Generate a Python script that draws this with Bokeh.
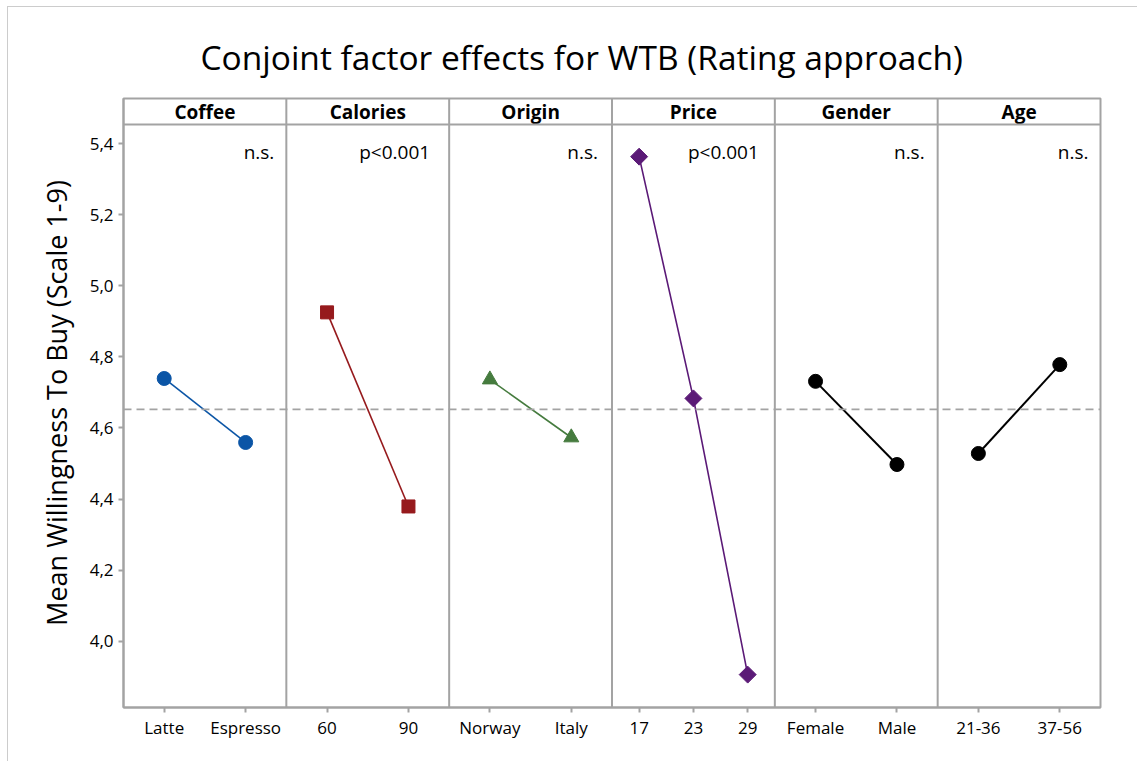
import math
from bokeh.plotting import figure
from bokeh.models import FixedTicker, Span
from bokeh.core.properties import value
from bokeh.embed import file_html
from bokeh.resources import INLINE

# ---- data ----
factors = ["Coffee", "Calories", "Origin", "Price", "Gender", "Age"]
levels = [["Latte", "Espresso"], ["60", "90"], ["Norway", "Italy"],
          ["17", "23", "29"], ["Female", "Male"], ["21-36", "37-56"]]
means = [[4.739, 4.559], [4.925, 4.379], [4.736, 4.573],
         [5.363, 4.683, 3.906], [4.731, 4.497], [4.528, 4.778]]
significance = ["n.s.", "p<0.001", "n.s.", "p<0.001", "n.s.", "n.s."]
grand_mean = 4.652
y_ticks = [4.0, 4.2, 4.4, 4.6, 4.8, 5.0, 5.2, 5.4]
y_tick_labels = ["4,0", "4,2", "4,4", "4,6", "4,8", "5,0", "5,2", "5,4"]

# ---- styles ----
colors = ["#0B55A6", "#961A1D", "#457B3E", "#5B1A77", "#000000", "#000000"]
markers = ["circle", "square", "triangle", "square", "circle", "circle"]
angles = [0, 0, 0, math.pi / 4, 0, 0]
sizes = [14, 13, 15, 12, 14, 14]
line_widths = [1.6, 1.6, 1.6, 1.6, 2.0, 2.0]
sig_offsets = [-12, -19, -14, -16, -13, -12]
FONT = "Open Sans"
GRAY = "#a3a3a3"

# layout constants (data units of the y scale)
Y_BOTTOM, HEADER_BOTTOM, Y_TOP = 3.8135, 5.4534, 5.5266
SIG_Y = 5.376

p = figure(width=1130, height=755, x_range=(0, len(factors)),
           y_range=(Y_BOTTOM, Y_TOP), output_backend="svg",
           toolbar_location=None, min_border_left=115, min_border_right=38,
           min_border_top=91, min_border_bottom=55)
p.margin = (6, 0, 0, 7)

p.title.text = "Conjoint factor effects for WTB (Rating approach)"
p.title.align = "left"
p.title.offset = 77
p.title.text_font = FONT
p.title.text_font_size = "33.5px"
p.title.text_font_style = "normal"
p.title.text_color = "#000000"
p.title.standoff = 37

p.xgrid.visible = False
p.ygrid.visible = False
p.outline_line_color = GRAY
p.outline_line_width = 2
p.background_fill_color = "white"
p.border_fill_color = "white"

# x positions of the levels within each panel
x_ticks = []
x_labels = {}
panel_x = []
for k, lv in enumerate(levels):
    n = len(lv)
    xs = [k + (i + 0.5) / n for i in range(n)]
    panel_x.append(xs)
    for xv, lab in zip(xs, lv):
        x_ticks.append(xv)
        x_labels[xv] = lab

# reference line
p.add_layout(Span(location=grand_mean, dimension="width", line_color=GRAY,
                  line_width=1.6, line_dash="8 5"))
# panel dividers
for k in range(1, len(factors)):
    p.add_layout(Span(location=k, dimension="height", line_color=GRAY, line_width=2))
# header strip bottom
p.add_layout(Span(location=HEADER_BOTTOM, dimension="width", line_color=GRAY, line_width=2))

# data
for k in range(len(factors)):
    p.line(panel_x[k], means[k], line_color=colors[k], line_width=line_widths[k])
    p.scatter(panel_x[k], means[k], marker=markers[k], size=sizes[k],
              angle=angles[k], fill_color=colors[k], line_color=colors[k])

# header texts
p.text(x=[k + 0.5 for k in range(len(factors))],
       y=[(HEADER_BOTTOM + Y_TOP) / 2] * len(factors), text=factors,
       text_align="center", text_baseline="middle", text_font=value(FONT),
       text_font_size="19px", text_font_style="bold", text_color="#000000")

# significance labels
p.text(x=[k + 1 for k in range(len(factors))], y=[SIG_Y] * len(factors),
       text=significance, x_offset=sig_offsets, text_align="right",
       text_baseline="middle", text_font=value(FONT), text_font_size="19px",
       text_color="#000000")

# axes
p.yaxis.ticker = FixedTicker(ticks=y_ticks)
p.yaxis.major_label_overrides = dict(zip(y_ticks, y_tick_labels))
p.yaxis.axis_label = "Mean Willingness To Buy (Scale 1-9)"
p.yaxis.axis_label_text_font = FONT
p.yaxis.axis_label_text_font_size = "27px"
p.yaxis.axis_label_text_font_style = "normal"
p.yaxis.axis_label_text_color = "#000000"
p.yaxis.axis_label_standoff = 12
p.yaxis.minor_tick_line_color = None

p.xaxis.ticker = FixedTicker(ticks=x_ticks)
p.xaxis.major_label_overrides = x_labels
p.xaxis.minor_tick_line_color = None

for ax in (p.xaxis, p.yaxis):
    ax.axis_line_color = GRAY
    ax.axis_line_width = 2
    ax.major_tick_line_color = GRAY
    ax.major_tick_line_width = 2
    ax.major_tick_in = 0
    ax.major_tick_out = 5
    ax.major_label_text_font = FONT
    ax.major_label_text_font_size = "17px"
    ax.major_label_text_color = "#000000"
p.xaxis.major_label_standoff = 3
p.yaxis.major_label_standoff = 5

p.styles = {"border-left": "1px solid #cccccc", "border-top": "1px solid #cccccc"}

open("out.html", "w").write(file_html(p, INLINE))
